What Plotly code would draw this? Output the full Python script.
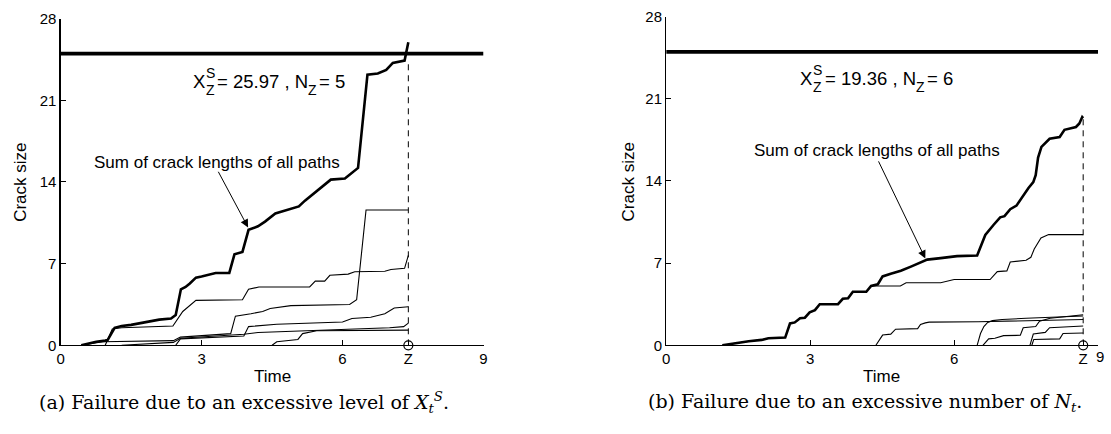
import plotly.graph_objects as go

W, H = 1111, 434

# ---------------- data ----------------
Z_A = 7.40          # failure time, panel (a)
Z_B = 8.69          # failure time, panel (b)
THRESHOLD = 25
x_ticks = [0, 3, 6, 9]
y_ticks = [0, 7, 14, 21, 28]

# panel (a): sum of crack lengths
sum_a_t = [0.44, 0.6, 0.76, 0.95, 1.0, 1.15, 1.3, 1.5, 1.8, 2.1, 2.35, 2.45, 2.56, 2.66, 2.75, 2.88, 3.0,
           3.3, 3.59, 3.7, 3.87, 3.95, 4.0, 4.2, 4.35, 4.57, 4.8, 5.07, 5.2, 5.35, 5.45, 5.63, 5.75, 6.05,
           6.33, 6.53, 6.75, 6.93, 7.07, 7.32, 7.40]
sum_a_y = [0.0, 0.15, 0.3, 0.4, 0.45, 1.5, 1.65, 1.75, 2.0, 2.2, 2.3, 2.6, 4.8, 5.0, 5.3, 5.8, 5.9,
           6.2, 6.2, 7.8, 8.0, 9.2, 9.9, 10.2, 10.6, 11.3, 11.6, 11.9, 12.4, 12.9, 13.2, 13.8, 14.2, 14.3,
           15.2, 23.2, 23.3, 23.6, 24.2, 24.4, 25.97]

# panel (a): individual paths
a1_t = [0.95, 1.1, 1.3, 1.8, 2.39, 2.6, 2.88, 3.87, 4.0, 4.22, 5.3, 5.42, 5.62, 5.73, 6.12, 6.26, 6.9, 7.03, 7.32, 7.40]
a1_y = [0.0, 1.4, 1.5, 1.55, 1.65, 2.9, 3.85, 3.9, 4.8, 5.0, 5.0, 5.5, 5.5, 6.0, 6.1, 6.3, 6.35, 6.5, 6.6, 7.7]
a2_t = [0.44, 0.7, 0.9, 2.4, 2.55, 3.62, 3.72, 4.05, 4.3, 4.46, 4.9, 6.15, 6.3, 6.5, 7.40]
a2_y = [0.0, 0.2, 0.3, 0.4, 0.7, 1.0, 2.5, 2.7, 2.9, 3.15, 3.4, 3.5, 3.9, 11.6, 11.6]
a3_t = [2.45, 2.55, 3.9, 4.0, 4.6, 6.0, 6.2, 6.6, 6.9, 7.1, 7.40]
a3_y = [0.0, 0.55, 0.8, 1.6, 1.8, 2.0, 2.3, 2.4, 2.7, 3.2, 3.3]
a4_t = [1.3, 1.8, 2.4, 2.55, 3.9, 4.2, 5.0, 5.3, 6.2, 7.0, 7.3, 7.40]
a4_y = [0.0, 0.1, 0.25, 0.6, 0.95, 1.1, 1.2, 1.3, 1.4, 1.5, 1.6, 1.9]
a5_t = [4.5, 4.6, 5.05, 5.15, 5.45, 7.40]
a5_y = [0.0, 0.3, 0.5, 1.0, 1.25, 1.3]

# panel (b): sum of crack lengths
sum_b_t = [1.17, 1.44, 1.72, 1.99, 2.13, 2.48, 2.58, 2.68, 2.79, 2.89, 2.99, 3.1, 3.2, 3.58, 3.68, 3.79,
           3.89, 4.17, 4.27, 4.41, 4.51, 4.68, 4.89, 5.1, 5.27, 5.44, 5.72, 6.06, 6.48, 6.65, 6.82, 6.96,
           7.05, 7.17, 7.3, 7.44, 7.55, 7.65, 7.7, 7.75, 7.82, 7.99, 8.2, 8.3, 8.54, 8.61, 8.67, 8.69]
sum_b_y = [0.0, 0.19, 0.35, 0.46, 0.6, 0.66, 1.86, 1.95, 2.3, 2.35, 2.8, 3.0, 3.5, 3.5, 3.96, 4.0,
           4.56, 4.56, 5.05, 5.2, 5.87, 6.1, 6.35, 6.7, 6.97, 7.3, 7.43, 7.6, 7.65, 9.4, 10.25, 10.9,
           11.0, 11.6, 11.9, 12.8, 13.4, 13.9, 14.5, 16.0, 16.9, 17.6, 17.75, 18.36, 18.6, 18.9, 19.45, 19.36]

# panel (b): individual paths
b1_t = [1.17, 1.44, 1.72, 1.99, 2.13, 2.48, 2.58, 2.68, 2.79, 2.89, 2.99, 3.1, 3.2, 3.58, 3.68, 3.79,
        3.89, 4.17, 4.27, 4.88, 5.0, 5.72, 5.9, 6.0, 6.75, 6.9, 7.1, 7.17, 7.5, 7.6, 7.67, 7.81, 7.97, 8.69]
b1_y = [0.0, 0.19, 0.35, 0.46, 0.6, 0.66, 1.86, 1.95, 2.3, 2.35, 2.8, 3.0, 3.5, 3.5, 3.96, 4.0,
        4.56, 4.56, 5.05, 5.05, 5.33, 5.33, 5.52, 5.6, 5.6, 6.28, 6.34, 7.1, 7.24, 7.5, 8.2, 9.15, 9.43, 9.43]
b2_t = [4.37, 4.51, 4.68, 4.78, 5.24, 5.3, 5.4, 5.48, 6.5, 7.0, 7.5, 8.0, 8.69]
b2_y = [0.0, 0.87, 0.95, 1.37, 1.42, 1.78, 1.91, 1.97, 2.0, 2.05, 2.1, 2.15, 2.2]
b3_t = [6.48, 6.55, 6.62, 6.7, 6.8, 7.0, 7.5, 8.0, 8.69]
b3_y = [0.0, 1.0, 1.6, 1.95, 2.1, 2.2, 2.3, 2.4, 2.5]
b4_t = [6.6, 6.72, 6.85, 7.03, 7.38, 7.44, 7.7, 7.78, 8.0, 8.69]
b4_y = [0.0, 0.55, 0.6, 0.82, 0.85, 1.5, 1.6, 2.05, 2.3, 2.6]
b5_t = [7.58, 7.65, 7.9, 7.99, 8.69]
b5_y = [0.0, 0.96, 1.1, 1.5, 1.64]
b6_t = [7.62, 7.66, 8.2, 8.27, 8.69]
b6_y = [0.0, 0.5, 0.55, 1.0, 1.05]

label_a = ("25.97", "5")
label_b = ("19.36", "6")

# ---------------- figure ----------------
FONT = "Liberation Sans"
fig = go.Figure()


def PX(r):
    return r / W


def PY(r):
    return 1 - r / H


def line(t, y, w, xa, ya, dash=None):
    fig.add_trace(go.Scatter(x=t, y=y, mode="lines", xaxis=xa, yaxis=ya, showlegend=False,
                             hoverinfo="skip", line=dict(color="black", width=w, dash=dash)))


for xa, ya, z, sy, paths, st, sv in [
        ("x", "y", Z_A, sum_a_y[-2], [(a1_t, a1_y), (a2_t, a2_y), (a3_t, a3_y), (a4_t, a4_y), (a5_t, a5_y)],
         sum_a_t, sum_a_y),
        ("x2", "y2", Z_B, sum_b_y[-1], [(b1_t, b1_y), (b2_t, b2_y), (b3_t, b3_y), (b4_t, b4_y), (b5_t, b5_y),
                                        (b6_t, b6_y)], sum_b_t, sum_b_y)]:
    line([0, 9], [THRESHOLD, THRESHOLD], 3.8, xa, ya)
    line([z, z], [0, sy], 1, xa, ya, dash="6px,5px")
    for t, y in paths:
        line(t, y, 1.1, xa, ya)
    line(st, sv, 2.6, xa, ya)
    fig.add_trace(go.Scatter(x=[z], y=[0], mode="markers", xaxis=xa, yaxis=ya, showlegend=False,
                             hoverinfo="skip", cliponaxis=False,
                             marker=dict(symbol="circle", size=9, color="white",
                                         line=dict(color="black", width=1.2))))


def xaxis(domain, z, anchor, labels):
    return dict(domain=domain, range=[0, 9], anchor=anchor, showgrid=False, zeroline=False,
                showline=True, linecolor="black", linewidth=1.2, ticks="inside", ticklen=5,
                tickcolor="black", tickwidth=1, tickvals=x_ticks + [z],
                ticktext=labels + ["Z"], tickangle=0,
                tickfont=dict(family=FONT, size=15, color="black"))


def yaxis(domain, anchor):
    return dict(domain=domain, range=[0, 28], anchor=anchor, showgrid=False, zeroline=False,
                showline=True, linecolor="black", linewidth=1.2, ticks="inside", ticklen=5,
                tickcolor="black", tickwidth=1, tickvals=y_ticks,
                tickfont=dict(family=FONT, size=15, color="black"))


fig.update_layout(
    width=W, height=H, margin=dict(l=0, r=0, t=0, b=0), autosize=False,
    paper_bgcolor="white", plot_bgcolor="white",
    xaxis=xaxis([PX(57), PX(483)], Z_A, "y", [str(v) for v in x_ticks]),
    yaxis=yaxis([PY(350), PY(10)], "x"),
    xaxis2=xaxis([PX(667), PX(1102)], Z_B, "y2", [str(v) for v in x_ticks[:-1]] + [""]),
    yaxis2=yaxis([PY(350), PY(8)], "x2"),
)

ann = []


def text(x, y, s, size, family=FONT, xanchor="center", angle=0):
    ann.append(dict(x=PX(x), y=PY(y), xref="paper", yref="paper", text=s, showarrow=False,
                    xanchor=xanchor, yanchor="middle", textangle=angle, borderpad=0, borderwidth=0,
                    font=dict(family=family, size=size, color="black")))


# approximate glyph widths (em) of Liberation Sans, used to chain label pieces
GLYPH = {"=": 0.584, " ": 0.278, ".": 0.278, ",": 0.278, "N": 0.722, "X": 0.667, "Z": 0.611, "S": 0.667}


def width(s, size):
    return sum(GLYPH.get(c, 0.556) for c in s) * size


def failure_label(x0, y0, value, n):
    big, small = 18.5, 14
    text(x0, y0, "X", big, xanchor="left")
    xs = x0 + width("X", big) + 1
    text(xs, y0 - 8, "S", small, xanchor="left")
    text(xs, y0 + 9, "Z", small, xanchor="left")
    xm = xs + width("S", small) + 2
    main = "= %s , N" % value
    text(xm, y0, main, big, xanchor="left")
    xz = xm + width(main, big) + 1
    text(xz, y0 + 9, "Z", small, xanchor="left")
    text(xz + width("Z", small) + 2, y0, "= %s" % n, big, xanchor="left")


# right panel "9" tick label (shifted right of the Z label as in the original)
text(1104, 362, "9", 15)

# axis titles
text(270, 383, "Time", 17)
text(884, 383, "Time", 17)
text(17, 180, "Crack size", 17, angle=-90)
text(629, 180, "Crack size", 17, angle=-90)

# failure labels
failure_label(190, 75, *label_a)
failure_label(802, 72, *label_b)

# "sum" labels with arrows
text(215, 160, "Sum of crack lengths of all paths", 17)
text(879, 147, "Sum of crack lengths of all paths", 17)
for xr, yr, tx, ty, hx, hy in [("x", "y", 3.34, 15.0, 3.99, 10.1), ("x2", "y2", 4.41, 15.8, 5.4, 7.4)]:
    ann.append(dict(x=hx, y=hy, xref=xr, yref=yr, ax=tx, ay=ty, axref=xr, ayref=yr, text="",
                    showarrow=True, arrowhead=2, arrowsize=1.6, arrowwidth=1, arrowcolor="black"))

# captions
SERIF = "DejaVu Serif"
text(242, 410, "(a) Failure due to an excessive level of <i>X</i><sub><i>t</i></sub><sup><i>S</i></sup>.", 19,
     family=SERIF)
text(867, 410, "(b) Failure due to an excessive number of <i>N</i><sub><i>t</i></sub>.", 19, family=SERIF)

fig.update_layout(annotations=ann)
fig.write_html(
    "out.html",
    config={"responsive": False, "displayModeBar": False, "staticPlot": True},
    post_script="document.body.style.margin='0';document.documentElement.style.overflow='hidden';"
                "document.body.style.overflow='hidden';",
)
